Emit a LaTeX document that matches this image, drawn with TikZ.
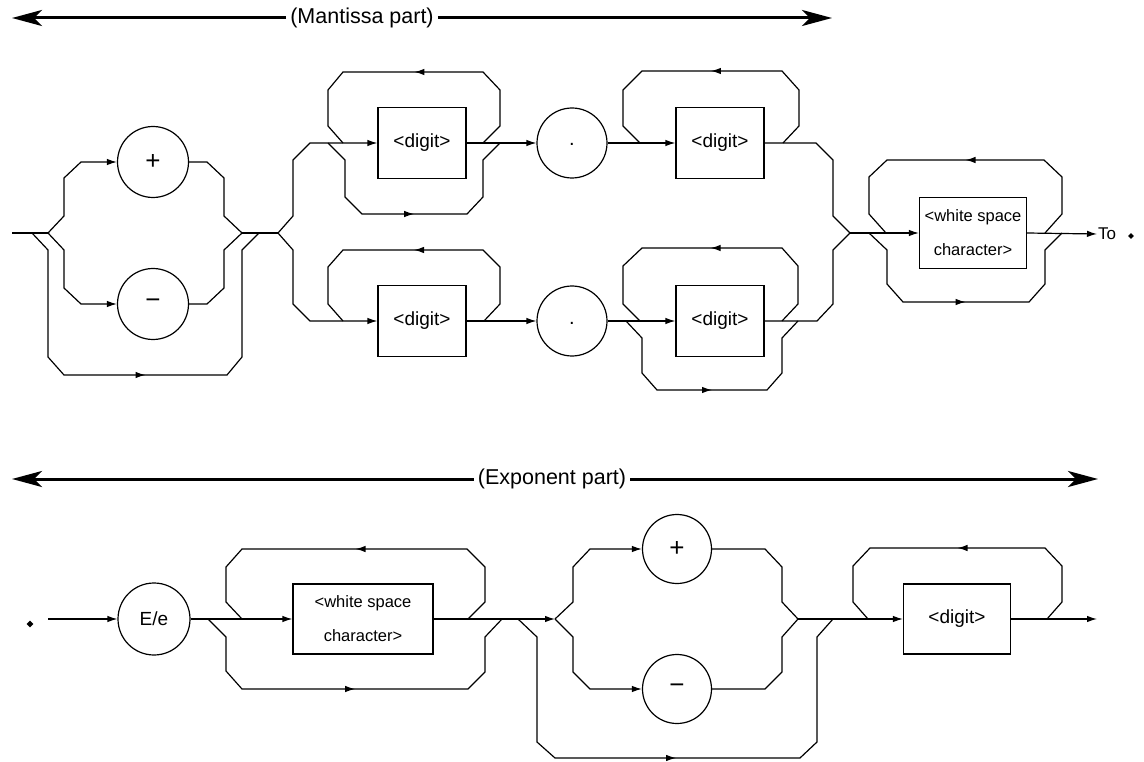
\documentclass[tikz,border=0pt]{standalone}
\usepackage{fontspec}
\setmainfont{Liberation Sans}
\usetikzlibrary{arrows.meta,decorations.markings,shapes.geometric}
\begin{document}
\begin{tikzpicture}[x=1pt,y=-1pt,
  rail/.style={line width=1.2pt, line join=miter},
  arr/.style={rail,-{Latex[length=10pt,width=6.5pt]}},
  midarr/.style={rail,postaction={decorate},decoration={markings,mark=at position 0.5 with {\arrow{Latex[length=10pt,width=6.5pt]}}}},
  box/.style={draw,line width=1.2pt,rectangle,inner sep=0pt,align=center,font=\fontsize{16.5}{34}\selectfont},
  dbox/.style={box,minimum width=88pt,minimum height=71pt,font=\fontsize{19}{22}\selectfont},
  circ/.style={draw,line width=1.2pt,circle,inner sep=0pt,minimum size=71pt,font=\fontsize{26}{28}\selectfont},
  hdr/.style={line width=3pt,-{Stealth[length=30pt,width=16pt,inset=8pt]}},
  htext/.style={font=\fontsize{21.5}{24}\selectfont,inner sep=4pt},
  dmd/.style={diamond,fill,inner sep=0pt,minimum size=7pt}]
\useasboundingbox (0,0) rectangle (1144,762);

% ---------- headers ----------
\node[htext] (mt) at (362,18) {(Mantissa part)};
\coordinate (mtl) at (12,18);
\coordinate (mtr) at (832,18);
\draw[hdr] (mt.west) -- (mtl);
\draw[hdr] (mt.east) -- (mtr);

\node[htext] (et) at (552,479) {(Exponent part)};
\coordinate (etl) at (12,479);
\coordinate (etr) at (1098,479);
\draw[hdr] (et.west) -- (etl);
\draw[hdr] (et.east) -- (etr);

% ---------- mantissa nodes ----------
\node[circ] (plus) at (153,162) {+};
\node[circ] (minus) at (153,304) {−};
\node[dbox] (d1) at (422,143) {<digit>};
\node[circ,minimum size=70pt] (dot1) at (572,143) {\raisebox{-6pt}{\fontsize{20}{20}\selectfont .}};
\node[dbox] (d2) at (720,143) {<digit>};
\node[dbox] (d3) at (422,321) {<digit>};
\node[circ,minimum size=70pt] (dot2) at (572,321) {\raisebox{-6pt}{\fontsize{20}{20}\selectfont .}};
\node[dbox] (d4) at (720,321) {<digit>};
\node[box,minimum width=107pt,minimum height=71pt] (ws1) at (973,233) {<white space\\character>};
\node[anchor=west,inner sep=1pt,font=\fontsize{17}{20}\selectfont] (to) at (1097,234) {To};
\node[dmd,minimum size=6pt] (tod) at (1131,236) {};

\coordinate (m0) at (12,233);
\coordinate (m1) at (48,233);
\coordinate (m2) at (242,233);
\coordinate (m3) at (278,233);
\coordinate (m4) at (850,233);

% sign choice
\draw[rail] (m0) -- (m1);
\draw[arr] (m1) -- (64,216) -- (64,178) -- (81,162) -- (plus.west);
\draw[arr] (m1) -- (64,250) -- (64,288) -- (81,304) -- (minus.west);
\draw[rail] (plus.east) -- (207,162) -- (224,178) -- (224,216) -- (m2);
\draw[rail] (minus.east) -- (207,304) -- (224,288) -- (224,250) -- (m2);
\draw[midarr] (32,233) -- (48,250) -- (48,357) -- (64,375) -- (227,375) -- (242,357) -- (242,250) -- (259,233);
\draw[rail] (m2) -- (m3);

% two rows
\draw[arr] (m3) -- (293,216) -- (293,160) -- (310,143) -- (d1.west);
\draw[arr] (m3) -- (293,250) -- (293,304) -- (310,321) -- (d3.west);

% row 1
\draw[midarr] (483,143) -- (500,126) -- (500,90) -- (483,72) -- (343,72) -- (328,90) -- (328,126) -- (343,143);
\draw[midarr] (328,143) -- (345,160) -- (345,197) -- (362,214) -- (467,214) -- (483,197) -- (483,160) -- (500,143);
\draw[arr] (d1.east) -- (dot1.west);
\draw[arr] (dot1.east) -- (d2.west);
\draw[midarr] (783,143) -- (799,126) -- (799,90) -- (782,71) -- (642,71) -- (623,90) -- (623,126) -- (640,143);
\draw[rail] (d2.east) -- (816,143) -- (833,160) -- (833,216) -- (m4);

% row 2
\draw[midarr] (484,321) -- (500,304) -- (500,267) -- (483,250) -- (343,250) -- (328,267) -- (328,304) -- (343,321);
\draw[arr] (d3.east) -- (dot2.west);
\draw[arr] (dot2.east) -- (d4.west);
\draw[midarr] (782,321) -- (798,304) -- (798,266) -- (782,248) -- (642,248) -- (623,266) -- (623,304) -- (640,321);
\draw[midarr] (626,321) -- (642,338) -- (642,373) -- (657,390) -- (767,390) -- (782,373) -- (782,338) -- (798,321);
\draw[rail] (d4.east) -- (817,321) -- (833,304) -- (833,250) -- (m4);

% white space
\draw[arr] (m4) -- (ws1.west);
\draw[midarr] (1045,233) -- (1062,214) -- (1062,177) -- (1044,160) -- (887,160) -- (869,177) -- (869,214) -- (886,233);
\draw[midarr] (869,233) -- (887,250) -- (887,284) -- (903,302) -- (1029,302) -- (1045,284) -- (1045,250) -- (1062,233);
\draw[arr] (ws1.east) -- (to.west);

% ---------- exponent nodes ----------
\node[dmd] (sd) at (30,624) {};
\coordinate (e0) at (48,619);
\node[circ,minimum size=72pt,font=\fontsize{19}{22}\selectfont] (Ee) at (154,619) {E/e};
\node[box,minimum width=140pt,minimum height=70pt] (ws2) at (363,619) {<white space\\character>};
\node[circ,minimum size=69pt] (plus2) at (677,549) {+};
\node[circ,minimum size=69pt] (minus2) at (677,689) {−};
\node[dbox,minimum width=107pt,minimum height=70pt] (d5) at (957,619) {<digit>};
\coordinate (e1) at (555,619);
\coordinate (e2) at (798,619);
\coordinate (e3) at (1097,619);

\draw[arr] (e0) -- (Ee.west);
\draw[arr] (Ee.east) -- (ws2.west);
\draw[midarr] (468,619) -- (485,602) -- (485,567) -- (467,549) -- (242,549) -- (226,567) -- (226,602) -- (242,619);
\draw[midarr] (208,619) -- (226,637) -- (226,671) -- (242,689) -- (468,689) -- (485,672) -- (485,637) -- (502,619);
\draw[arr] (ws2.east) -- (e1);
\draw[midarr] (518,619) -- (537,637) -- (537,742) -- (555,758) -- (800,758) -- (817,742) -- (817,637) -- (833,619);
\draw[arr] (e1) -- (573,602) -- (573,567) -- (590,549) -- (plus2.west);
\draw[arr] (e1) -- (573,637) -- (573,672) -- (590,689) -- (minus2.west);
\draw[rail] (plus2.east) -- (765,549) -- (782,567) -- (782,602) -- (e2);
\draw[rail] (minus2.east) -- (765,689) -- (782,672) -- (782,637) -- (e2);
\draw[arr] (e2) -- (d5.west);
\draw[midarr] (1047,619) -- (1062,602) -- (1062,566) -- (1045,548) -- (870,548) -- (853,566) -- (853,602) -- (868,619);
\draw[arr] (d5.east) -- (e3);
\end{tikzpicture}
\end{document}
